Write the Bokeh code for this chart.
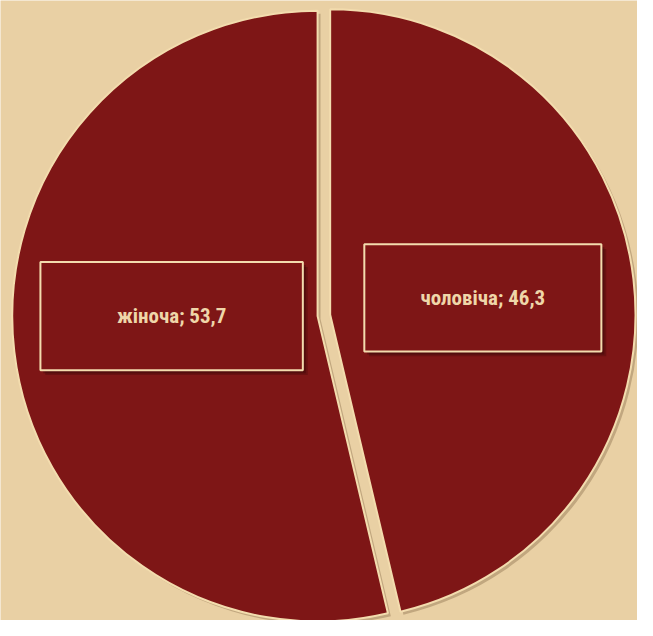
import math
from bokeh.plotting import figure
from bokeh.models import Range1d, ColumnDataSource
from bokeh.embed import file_html
from bokeh.resources import INLINE
from bokeh.core.properties import value

# ---- data ----
categories = ["чоловіча", "жіноча"]
shares = [46.3, 53.7]
label_texts = [f"{c}; {str(v).replace('.', ',')}" for c, v in zip(categories, shares)]

# ---- style / layout ----
BG = "#E9D0A4"
SLICE = "#7E1616"
EDGE = "#F3DCAE"
TEXT = "#EFD6A9"
W, H = 653, 636
CX, CY, R = 331.5, 313.0, 313.0
EXPLODE = 6.5
label_off = [(0.50, 0.055), (-0.478, 0.0)]   # fraction of R from slice centre
box_size = [(243, 110), (269, 111)]

p = figure(width=637, height=620, x_range=Range1d(0, W), y_range=Range1d(0, H),
           output_backend="svg", toolbar_location=None, min_border=0)
p.axis.visible = False
p.grid.visible = False
p.outline_line_color = None
p.background_fill_color = BG
p.border_fill_color = BG

total = sum(shares)
cum = 0.0
starts, ends, xs, ys = [], [], [], []
for v in shares:
    a0 = cum / total * 360.0
    cum += v
    a1 = cum / total * 360.0
    s = math.radians(90.0 - a1)
    e = math.radians(90.0 - a0)
    mid = (s + e) / 2
    starts.append(s)
    ends.append(e)
    xs.append(CX + EXPLODE * math.cos(mid))
    ys.append(CY + EXPLODE * math.sin(mid))

src = ColumnDataSource(dict(x=xs, y=ys, start=starts, end=ends,
                            sx=[x + 3 for x in xs], sy=[y - 3 for y in ys]))
# slice shadows
p.wedge(x="sx", y="sy", radius=R, start_angle="start", end_angle="end",
        source=src, fill_color="#4a2a10", fill_alpha=0.25, line_color=None)
# slices
p.wedge(x="x", y="y", radius=R, start_angle="start", end_angle="end",
        source=src, fill_color=SLICE, line_color=EDGE, line_width=2)

# label boxes
bx = [xs[i] + label_off[i][0] * R for i in range(2)]
by = [ys[i] + label_off[i][1] * R for i in range(2)]
bw = [b[0] for b in box_size]
bh = [b[1] for b in box_size]
lsrc = ColumnDataSource(dict(x=bx, y=by, w=bw, h=bh, t=label_texts,
                             sx1=[x + 5 for x in bx], sy1=[y - 5 for y in by],
                             sx2=[x + 3 for x in bx], sy2=[y - 3 for y in by]))
p.rect(x="sx1", y="sy1", width="w", height="h", source=lsrc,
       fill_color="#2a0505", fill_alpha=0.25, line_color=None)
p.rect(x="sx2", y="sy2", width="w", height="h", source=lsrc,
       fill_color="#2a0505", fill_alpha=0.35, line_color=None)
p.rect(x="x", y="y", width="w", height="h", source=lsrc,
       fill_color=SLICE, line_color=EDGE, line_width=2)
p.text(x="x", y="y", text="t", source=lsrc, text_align="center", text_baseline="middle",
       text_color=TEXT, text_font_size="21px", text_font_style="bold",
       text_font=value("'Liberation Sans Narrow', 'Arial Narrow', 'Roboto Condensed', Roboto, sans-serif"))

open("out.html", "w").write(file_html(p, INLINE))
